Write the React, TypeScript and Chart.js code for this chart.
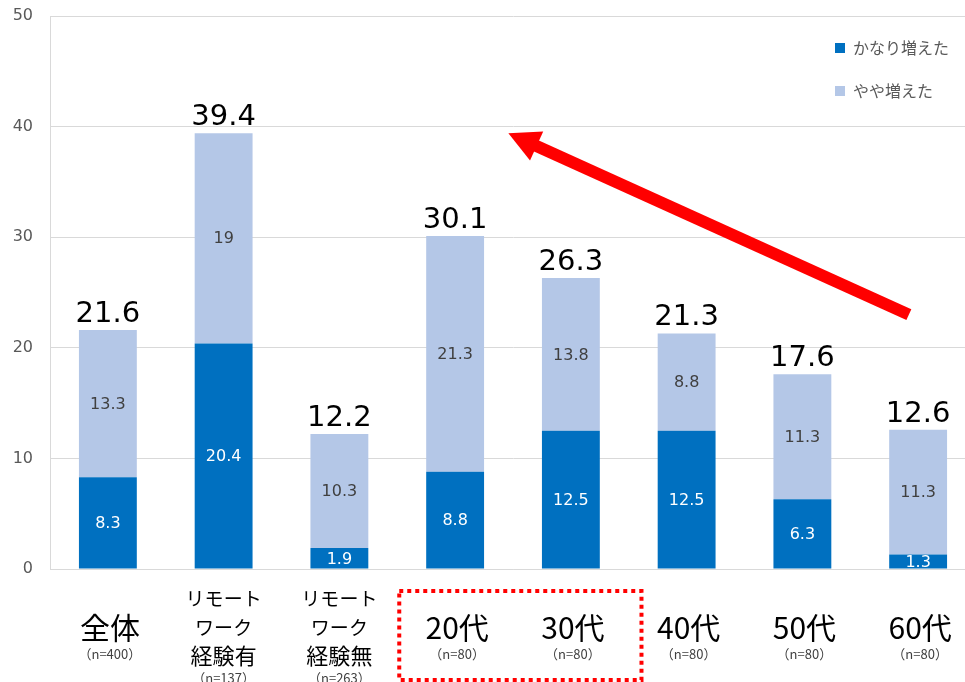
import React, { useEffect, useRef } from "react";
import { Chart, registerables } from "chart.js";

Chart.register(...registerables);

const categories = ["全体", "リモートワーク経験有", "リモートワーク経験無", "20代", "30代", "40代", "50代", "60代"];
const labelLines = [["全体"], ["リモート", "ワーク", "経験有"], ["リモート", "ワーク", "経験無"], ["20代"], ["30代"], ["40代"], ["50代"], ["60代"]];
const sampleSizes = ["（n=400）", "（n=137）", "（n=263）", "（n=80）", "（n=80）", "（n=80）", "（n=80）", "（n=80）"];
const seriesNames = ["かなり増えた", "やや増えた"];
const greatlyIncreased = [8.3, 20.4, 1.9, 8.8, 12.5, 12.5, 6.3, 1.3];
const slightlyIncreased = [13.3, 19, 10.3, 21.3, 13.8, 8.8, 11.3, 11.3];
const totals = [21.6, 39.4, 12.2, 30.1, 26.3, 21.3, 17.6, 12.6];
const yMin = 0;
const yMax = 50;
const yStep = 10;
const highlightedCategories = [3, 4];
const arrowTail = { x: 6.92, y: 23 };
const arrowTip = { x: 3.46, y: 39.4 };

const DARK = "#0070C0";
const LIGHT = "#B4C7E7";
const JP = '"Noto Sans CJK JP", "Noto Sans", sans-serif';
const NUM = '"DejaVu Sans", sans-serif';

const overlayPlugin = {
  id: "overlay",
  afterDatasetsDraw(chart: any) {
    const ctx = chart.ctx;
    const xs = chart.scales.x;
    const ys = chart.scales.y;
    const area = chart.chartArea;
    const catW = xs.getPixelForValue(1) - xs.getPixelForValue(0);
    ctx.save();

    // inner segment labels
    ctx.textAlign = "center";
    ctx.textBaseline = "middle";
    ctx.font = `16px ${NUM}`;
    categories.forEach((_, i) => {
      const x = xs.getPixelForValue(i);
      const a = greatlyIncreased[i];
      const b = slightlyIncreased[i];
      ctx.fillStyle = "#FFFFFF";
      ctx.fillText(String(a), x, ys.getPixelForValue(a / 2) + 1);
      ctx.fillStyle = "#404040";
      ctx.fillText(String(b), x, ys.getPixelForValue(a + b / 2) + 1);
    });

    // totals
    ctx.font = `29px ${NUM}`;
    ctx.fillStyle = "#000000";
    ctx.textBaseline = "alphabetic";
    totals.forEach((t, i) => {
      ctx.fillText(t.toFixed(1), xs.getPixelForValue(i), ys.getPixelForValue(t) - 8);
    });

    // x labels
    const base = area.bottom;
    categories.forEach((_, i) => {
      const x = xs.getPixelForValue(i);
      const lines = labelLines[i];
      ctx.fillStyle = "#000000";
      ctx.textBaseline = "middle";
      if (lines.length === 1) {
        ctx.font = `30px ${JP}`;
        ctx.fillText(lines[0], x + 2, base + 59);
        ctx.font = `13px ${JP}`;
        ctx.fillStyle = "#404040";
        ctx.fillText(sampleSizes[i], x + 2, base + 85);
      } else {
        ctx.font = `19px ${JP}`;
        ctx.fillText(lines[0], x, base + 30);
        ctx.fillText(lines[1], x, base + 59);
        ctx.font = `22px ${JP}`;
        ctx.fillText(lines[2], x, base + 87);
        ctx.font = `13px ${JP}`;
        ctx.fillStyle = "#404040";
        ctx.fillText(sampleSizes[i], x, base + 109);
      }
    });

    // highlight box
    const left = xs.getPixelForValue(highlightedCategories[0]) - catW * 0.5 + 2;
    const right = xs.getPixelForValue(highlightedCategories[highlightedCategories.length - 1]) + catW * 0.61;
    ctx.strokeStyle = "#FF0000";
    ctx.lineWidth = 4;
    ctx.setLineDash([4, 4]);
    ctx.strokeRect(left, base + 22, right - left, 89);
    ctx.setLineDash([]);

    // arrow
    const tx = xs.getPixelForValue(arrowTail.x);
    const ty = ys.getPixelForValue(arrowTail.y);
    const hx = xs.getPixelForValue(arrowTip.x);
    const hy = ys.getPixelForValue(arrowTip.y);
    const dx = hx - tx;
    const dy = hy - ty;
    const len = Math.hypot(dx, dy);
    const ux = dx / len;
    const uy = dy / len;
    const headLen = 31;
    const headHalf = 16;
    const bx = hx - ux * headLen;
    const by = hy - uy * headLen;
    ctx.strokeStyle = "#FF0000";
    ctx.fillStyle = "#FF0000";
    ctx.lineWidth = 12;
    ctx.lineCap = "butt";
    ctx.beginPath();
    ctx.moveTo(tx, ty);
    ctx.lineTo(bx + ux * 2, by + uy * 2);
    ctx.stroke();
    ctx.beginPath();
    ctx.moveTo(hx, hy);
    ctx.lineTo(bx - uy * headHalf, by + ux * headHalf);
    ctx.lineTo(bx + uy * headHalf, by - ux * headHalf);
    ctx.closePath();
    ctx.fill();

    // legend
    ctx.font = `16px ${JP}`;
    ctx.textAlign = "left";
    ctx.textBaseline = "middle";
    [DARK, LIGHT].forEach((c, k) => {
      const y = 48 + k * 43;
      ctx.fillStyle = c;
      ctx.fillRect(835, y - 5, 10, 10);
      ctx.fillStyle = "#595959";
      ctx.fillText(seriesNames[k], 853, y);
    });

    ctx.restore();
  },
};

export default function App() {
  const ref = useRef<HTMLCanvasElement | null>(null);
  useEffect(() => {
    if (!ref.current) return;
    const chart = new Chart(ref.current, {
      type: "bar",
      data: {
        labels: categories,
        datasets: [
          { label: seriesNames[0], data: greatlyIncreased, backgroundColor: DARK, borderWidth: 0 },
          { label: seriesNames[1], data: slightlyIncreased, backgroundColor: LIGHT, borderWidth: 0 },
        ],
      },
      options: {
        animation: false,
        responsive: true,
        maintainAspectRatio: false,
        layout: { padding: { top: 16, bottom: 113, left: 0, right: 0 } },
        datasets: { bar: { categoryPercentage: 1, barPercentage: 0.5 } },
        plugins: { legend: { display: false }, tooltip: { enabled: false } },
        scales: {
          x: {
            stacked: true,
            ticks: { display: false },
            grid: { display: true, color: "rgba(0,0,0,0)", drawTicks: false },
            border: { display: true, color: "#D9D9D9", width: 1 },
            afterFit: (s: any) => { s.paddingLeft = 0; s.paddingRight = 0; },
          },
          y: {
            stacked: true,
            min: yMin,
            max: yMax,
            ticks: { stepSize: yStep, color: "#595959", font: { family: NUM, size: 16 }, padding: 17 },
            grid: { color: "#D9D9D9", drawTicks: false },
            border: { display: true, color: "#D9D9D9", width: 1 },
            afterFit: (s: any) => { s.width = 50; s.paddingTop = 0; s.paddingBottom = 0; },
          },
        },
      },
      plugins: [overlayPlugin],
    });
    return () => chart.destroy();
  }, []);
  return (
    <div style={{ position: "fixed", left: 0, top: 0, width: 965, height: 682, overflow: "hidden", background: "#fff" }}>
      <div style={{ position: "absolute", left: 0, top: 0, width: 976, height: 682 }}>
        <canvas ref={ref} />
      </div>
    </div>
  );
}
